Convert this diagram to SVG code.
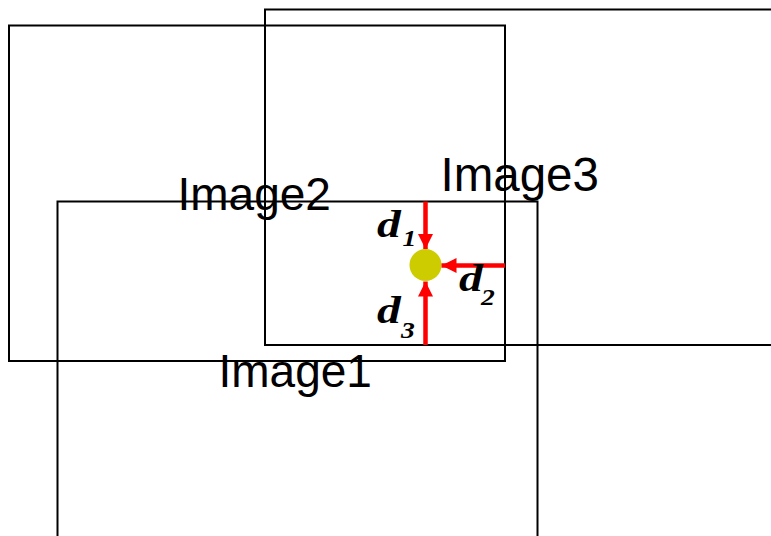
<svg xmlns="http://www.w3.org/2000/svg" width="771" height="536" viewBox="0 0 771 536">
  <style>
    .frame { fill: none; stroke: #000; stroke-width: 2; }
    .label { font-family: "Liberation Sans", Arial, sans-serif; font-size: 46px; fill: #000; }
    .dist { font-family: "Liberation Serif", "Times New Roman", serif; font-weight: bold; font-style: italic; fill: #000; }
    .arrow { stroke: #ff0000; stroke-width: 4.5; fill: none; marker-end: url(#head); }
  </style>
  <defs>
    <marker id="head" viewBox="0 0 10 10" refX="10" refY="5" markerUnits="userSpaceOnUse" markerWidth="15" markerHeight="16" orient="auto">
      <path d="M0,0 L10,5 L0,10 Z" fill="#ff0000"/>
    </marker>
  </defs>

  <!-- overlapping image frames -->
  <g id="image2">
    <rect class="frame" x="9" y="25.5" width="496" height="335.5"/>
    <text class="label" x="177.5" y="210">Image2</text>
  </g>
  <g id="image3">
    <rect class="frame" x="265" y="9.5" width="520" height="335.5"/>
    <text class="label" x="440.5" y="190.5" style="font-size:47.5px">Image3</text>
  </g>
  <g id="image1">
    <rect class="frame" x="57.5" y="201.5" width="480" height="350"/>
    <text class="label" x="218.5" y="386.5">Image1</text>
  </g>

  <!-- sample point -->
  <g id="point">
    <circle cx="425.5" cy="265" r="16" fill="#cccc00"/>
  </g>

  <!-- distances from the point to the nearest frame borders -->
  <g id="connectors">
    <line class="arrow" x1="425.5" y1="201.5" x2="425.5" y2="249"/>
    <line class="arrow" x1="505" y1="265.5" x2="441.5" y2="265.5"/>
    <line class="arrow" x1="425.5" y1="345" x2="425.5" y2="281.5"/>
  </g>

  <!-- wide equation-style symbols d1, d2, d3 -->
  <g id="distance-labels" class="dist">
    <text transform="translate(377,237) scale(1.25,1)" font-size="38">d</text>
    <text transform="translate(402.5,245.5) scale(1.2,1)" font-size="23">1</text>
    <text transform="translate(459,291) scale(1.25,1)" font-size="38">d</text>
    <text transform="translate(481,305) scale(1.2,1)" font-size="23">2</text>
    <text transform="translate(377,323) scale(1.25,1)" font-size="38">d</text>
    <text transform="translate(401,338) scale(1.2,1)" font-size="23">3</text>
  </g>
</svg>
